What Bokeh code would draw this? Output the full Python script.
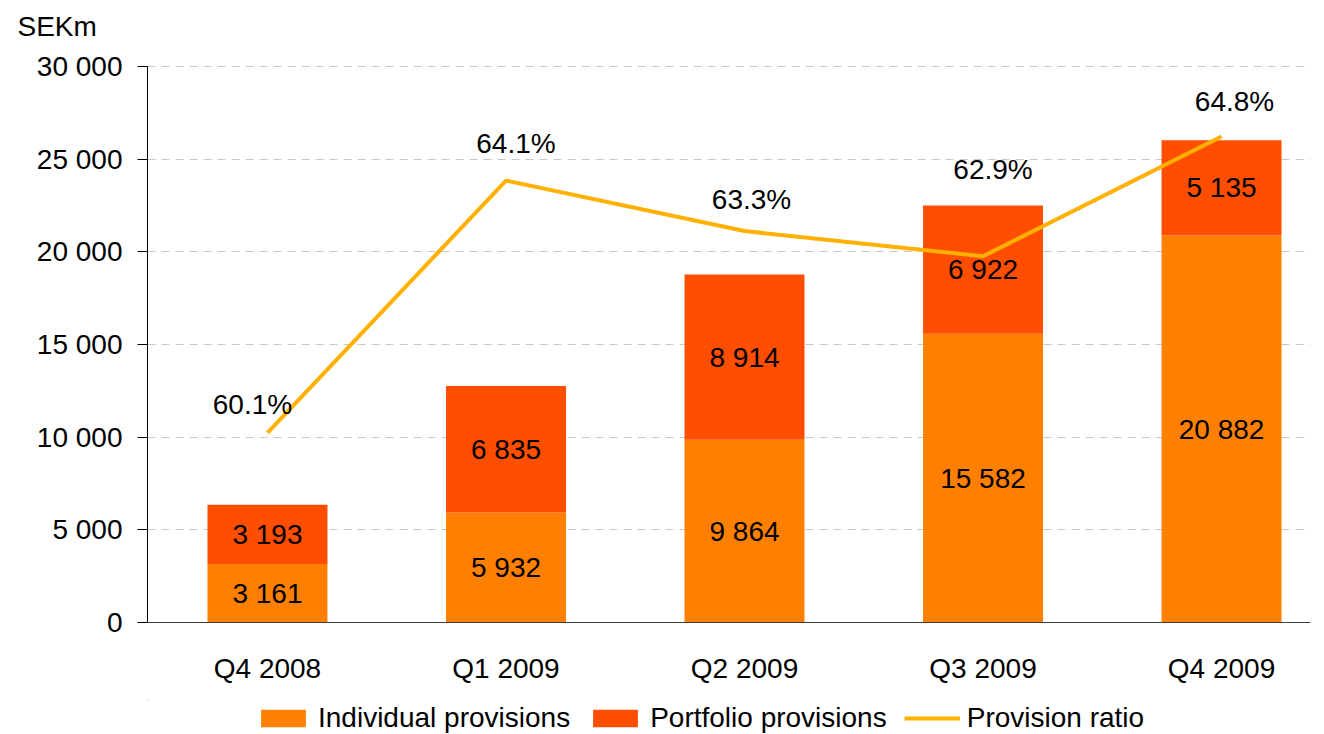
from bokeh.plotting import figure
from bokeh.layouts import column
from bokeh.models import (ColumnDataSource, Range1d, FixedTicker, Legend, LegendItem)
from bokeh.embed import file_html
from bokeh.resources import INLINE
from bokeh.core.properties import value

# ---- data ----
quarters = ["Q4 2008", "Q1 2009", "Q2 2009", "Q3 2009", "Q4 2009"]
individual = [3161, 5932, 9864, 15582, 20882]
portfolio = [3193, 6835, 8914, 6922, 5135]
ratio = [60.1, 64.1, 63.3, 62.9, 64.8]
y_ticks = [0, 5000, 10000, 15000, 20000, 25000, 30000]
y_tick_labels = ["0", "5 000", "10 000", "15 000", "20 000", "25 000", "30 000"]
series_names = ["Individual provisions", "Portfolio provisions", "Provision ratio"]

# ---- styles ----
FONT = "Liberation Sans"
FS = "28px"
C_IND = "#FF8000"
C_PORT = "#FF4E00"
C_LINE = "#FFB000"
ratio_dx = [-15, 10, 7, 10, 13]
ratio_dy = [-28, -37, -32, -87, -35]

# frame is a bit taller than the 0..30 000 axis so the unit title fits above
Y_MAX = 30000
Y_TOP = 30920
R_LO, R_HI = 57.09, 57.09 + 8.82 * Y_TOP / Y_MAX

def fmt(v):
    return f"{v:,}".replace(",", " ")

xs = list(range(len(quarters)))
src = ColumnDataSource(dict(
    x=xs, ind=individual, port=portfolio,
    ind_mid=[v / 2 for v in individual],
    port_mid=[a + b / 2 for a, b in zip(individual, portfolio)],
    ind_lbl=[fmt(v) for v in individual],
    port_lbl=[fmt(v) for v in portfolio],
    ratio=ratio,
    ratio_lbl=[f"{v:.1f}%" for v in ratio],
    dx=ratio_dx, dy=ratio_dy,
))

p = figure(width=1324, height=700, output_backend="svg", toolbar_location=None,
           x_range=Range1d(-0.503, 4.373), y_range=Range1d(0, Y_TOP),
           min_border_left=147, min_border_right=14, min_border_top=0,
           min_border_bottom=78, title="SEKm")
p.extra_y_ranges = {"ratio": Range1d(R_LO, R_HI)}
p.outline_line_color = None
p.background_fill_color = "white"

p.title.align = "left"
p.title.offset = -130
p.title.standoff = 16
p.title.vertical_align = "bottom"
p.title.text_font = FONT
p.title.text_font_size = FS
p.title.text_font_style = "normal"
p.title.text_color = "black"

bars = p.vbar_stack(["ind", "port"], x="x", width=0.503, color=[C_IND, C_PORT],
                    line_color=None, source=src)
line = p.line("x", "ratio", y_range_name="ratio", source=src, line_color=C_LINE,
              line_width=4)

p.text("x", "ind_mid", text="ind_lbl", source=src, text_align="center",
       text_baseline="middle", text_font=value(FONT), text_font_size=FS,
       text_color="black")
p.text("x", "port_mid", text="port_lbl", source=src, text_align="center",
       text_baseline="middle", text_font=value(FONT), text_font_size=FS,
       text_color="black")
p.text("x", "ratio", text="ratio_lbl", source=src, y_range_name="ratio",
       x_offset="dx", y_offset="dy", text_align="center",
       text_baseline="middle", text_font=value(FONT), text_font_size=FS,
       text_color="black")

# axes
p.xgrid.visible = False
p.ygrid.grid_line_color = "#C8C8C8"
p.ygrid.grid_line_dash = "8 6"
p.ygrid.ticker = FixedTicker(ticks=y_ticks)

ya = p.yaxis[0]
ya.ticker = FixedTicker(ticks=y_ticks)
ya.bounds = (0, Y_MAX)
ya.major_label_overrides = {t: l for t, l in zip(y_ticks, y_tick_labels)}
ya.axis_line_color = "black"
ya.major_tick_line_color = "black"
ya.major_tick_out = 10
ya.major_tick_in = 0
ya.minor_tick_line_color = None
ya.major_label_standoff = 15
ya.major_label_text_font = FONT
ya.major_label_text_font_size = FS
ya.major_label_text_color = "black"

xa = p.xaxis[0]
xa.ticker = FixedTicker(ticks=xs)
xa.major_label_overrides = {i: q for i, q in zip(xs, quarters)}
xa.axis_line_color = "#404040"
xa.major_tick_line_color = None
xa.minor_tick_line_color = None
xa.major_tick_out = 0
xa.major_tick_in = 0
xa.major_label_standoff = 30
xa.major_label_text_font = FONT
xa.major_label_text_font_size = FS
xa.major_label_text_color = "black"

# ---- legend strip below the chart ----
pl = figure(width=1324, height=34, output_backend="svg", toolbar_location=None,
            x_range=Range1d(100, 101), y_range=Range1d(-1000, -999),
            x_axis_type=None, y_axis_type=None,
            min_border_left=147, min_border_right=14, min_border_top=0,
            min_border_bottom=0)
pl.outline_line_color = None
pl.xgrid.visible = False
pl.ygrid.visible = False
# same series drawn outside this strip's visible range, only to feed the legend
g1 = pl.vbar(x="x", top="ind", width=0.5, source=src, color=C_IND, line_color=None)
g2 = pl.vbar(x="x", top="port", width=0.5, source=src, color=C_PORT, line_color=None)
g3 = pl.line(x="x", y="ratio", source=src, line_color=C_LINE, line_width=4)

legend = Legend(items=[
    LegendItem(label=series_names[0], renderers=[g1]),
    LegendItem(label=series_names[1], renderers=[g2]),
    LegendItem(label=series_names[2], renderers=[g3]),
], location=(108, 0), orientation="horizontal", glyph_width=56, glyph_height=22,
    label_standoff=7, spacing=17, padding=0, margin=0,
    border_line_color=None, background_fill_alpha=0,
    label_text_font=FONT, label_text_font_size="28px", label_text_color="black")
pl.add_layout(legend)

layout = column(p, pl, spacing=0)
open("out.html", "w").write(file_html(layout, INLINE))
